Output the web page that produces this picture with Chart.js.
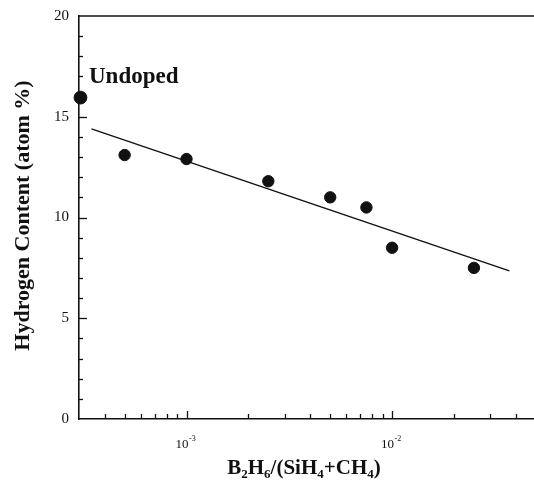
<!DOCTYPE html>
<html>
<head>
<meta charset="utf-8">
<script src="https://cdn.jsdelivr.net/npm/chart.js@4.4.0/dist/chart.umd.min.js"></script>
<style>
  body { margin: 0; background: #fff; }
  canvas { display: block; }
</style>
</head>
<body>
<canvas id="hChart" width="534" height="492"></canvas>
<script>
// B2H6 doping ratio vs hydrogen content
const dopingRatio = [5e-4, 1e-3, 2.5e-3, 5e-3, 7.5e-3, 1e-2, 2.5e-2];
const hydrogenContent = [13.1, 12.9, 11.8, 11.0, 10.5, 8.5, 7.5];
// undoped film sits on the left edge of the log axis
const undopedRatio = [3.05e-4];
const undopedContent = [15.95];
// least squares fit line end points
const fitRatio = [3.45e-4, 3.72e-2];
const fitContent = [14.4, 7.35];
// tick labels
const yTickValues = [0, 5, 10, 15, 20];
const xTickValues = [1e-3, 1e-2];
const xTickExponents = ['-3', '-2'];

const X_MIN = 3.05e-4, X_MAX = 0.049;
const SERIF = '"Liberation Serif", "Times New Roman", serif';
const INK = '#111';

function toPoints(xs, ys) {
    return xs.map((x, i) => ({ x: x, y: ys[i] }));
}

// scales take no room of their own, the padding sets the plot box
function noRoom(scale) {
    if (scale.isHorizontal()) scale.height = 0; else scale.width = 0;
    scale.paddingLeft = scale.paddingRight = scale.paddingTop = scale.paddingBottom = 0;
}

// ticks point inward, labels/titles drawn by hand (super/subscripts)
const axisDecor = {
    id: 'axisDecor',
    afterDraw(chart) {
        const ctx = chart.ctx;
        const area = chart.chartArea;
        const xs = chart.scales.x;
        const ys = chart.scales.y;
        ctx.save();
        ctx.strokeStyle = INK;
        ctx.fillStyle = INK;

        // top frame line
        ctx.lineWidth = 1.6;
        ctx.beginPath();
        ctx.moveTo(area.left, area.top);
        ctx.lineTo(area.right, area.top);
        ctx.stroke();

        // x ticks: decades long, 2..9 short
        ctx.lineWidth = 1.3;
        for (let d = -4; d <= -1; d++) {
            for (let m = 1; m <= 9; m++) {
                const v = m * Math.pow(10, d);
                if (v <= X_MIN * 1.01 || v > X_MAX) continue;
                const px = Math.round(xs.getPixelForValue(v)) + 0.5;
                const len = m === 1 ? 8 : 5;
                ctx.beginPath();
                ctx.moveTo(px, area.bottom);
                ctx.lineTo(px, area.bottom - len);
                ctx.stroke();
            }
        }

        // y ticks every unit, every 5 long
        for (let v = 1; v < 20; v++) {
            const py = Math.round(ys.getPixelForValue(v)) + 0.5;
            const len = v % 5 === 0 ? 8 : 4;
            ctx.beginPath();
            ctx.moveTo(area.left, py);
            ctx.lineTo(area.left + len, py);
            ctx.stroke();
        }

        // y tick labels
        ctx.font = '15px ' + SERIF;
        ctx.textAlign = 'right';
        ctx.textBaseline = 'middle';
        yTickValues.forEach(v => {
            ctx.fillText(String(v), area.left - 10, ys.getPixelForValue(v));
        });

        // x tick labels, 10 with raised exponent
        ctx.textBaseline = 'alphabetic';
        xTickValues.forEach((v, i) => {
            const px = xs.getPixelForValue(v);
            ctx.font = '13px ' + SERIF;
            ctx.textAlign = 'right';
            ctx.fillText('10', px + 2, 448);
            ctx.font = '8px ' + SERIF;
            ctx.textAlign = 'left';
            ctx.fillText(xTickExponents[i], px + 2.5, 441);
        });

        // y axis title
        ctx.save();
        ctx.translate(23, (area.top + area.bottom) / 2 - 2);
        ctx.rotate(-Math.PI / 2);
        ctx.font = 'bold 22px ' + SERIF;
        ctx.textAlign = 'center';
        ctx.textBaseline = 'middle';
        ctx.fillText('Hydrogen Content (atom %)', 0, 0);
        ctx.restore();

        // x axis title with subscripts
        const parts = [['B', 0], ['2', 1], ['H', 0], ['6', 1], ['/(SiH', 0], ['4', 1], ['+CH', 0], ['4', 1], [')', 0]];
        const bigFont = 'bold 21px ' + SERIF;
        const subFont = 'bold 13px ' + SERIF;
        let total = 0;
        parts.forEach(p => {
            ctx.font = p[1] ? subFont : bigFont;
            total += ctx.measureText(p[0]).width;
        });
        let cx = 304 - total / 2;
        ctx.textAlign = 'left';
        parts.forEach(p => {
            ctx.font = p[1] ? subFont : bigFont;
            ctx.fillText(p[0], cx, p[1] ? 478 : 474);
            cx += ctx.measureText(p[0]).width;
        });

        // label next to the undoped point
        ctx.font = 'bold 23px ' + SERIF;
        ctx.fillText('Undoped', 89, 83);

        ctx.restore();
    }
};

new Chart(document.getElementById('hChart'), {
    type: 'scatter',
    data: {
        datasets: [
            {
                label: 'fit',
                data: toPoints(fitRatio, fitContent),
                showLine: true,
                borderColor: INK,
                borderWidth: 1.4,
                pointRadius: 0,
                clip: false
            },
            {
                label: 'doped',
                data: toPoints(dopingRatio, hydrogenContent),
                backgroundColor: INK,
                borderColor: INK,
                pointRadius: 5.7,
                clip: false
            },
            {
                label: 'undoped',
                data: toPoints(undopedRatio, undopedContent),
                backgroundColor: INK,
                borderColor: INK,
                pointRadius: 6.4,
                clip: false
            }
        ]
    },
    options: {
        responsive: false,
        animation: false,
        layout: {
            autoPadding: false,
            padding: { left: 79, top: 16, right: 0, bottom: 73 }
        },
        scales: {
            x: {
                type: 'logarithmic',
                min: X_MIN,
                max: X_MAX,
                grid: { display: false },
                border: { display: true, color: INK, width: 1.6 },
                ticks: { display: false },
                title: { display: false },
                afterFit: noRoom
            },
            y: {
                min: 0,
                max: 20,
                grid: { display: false },
                border: { display: true, color: INK, width: 1.6 },
                ticks: { display: false },
                title: { display: false },
                afterFit: noRoom
            }
        },
        plugins: {
            legend: { display: false },
            tooltip: { enabled: false }
        }
    },
    plugins: [axisDecor]
});
</script>
</body>
</html>
